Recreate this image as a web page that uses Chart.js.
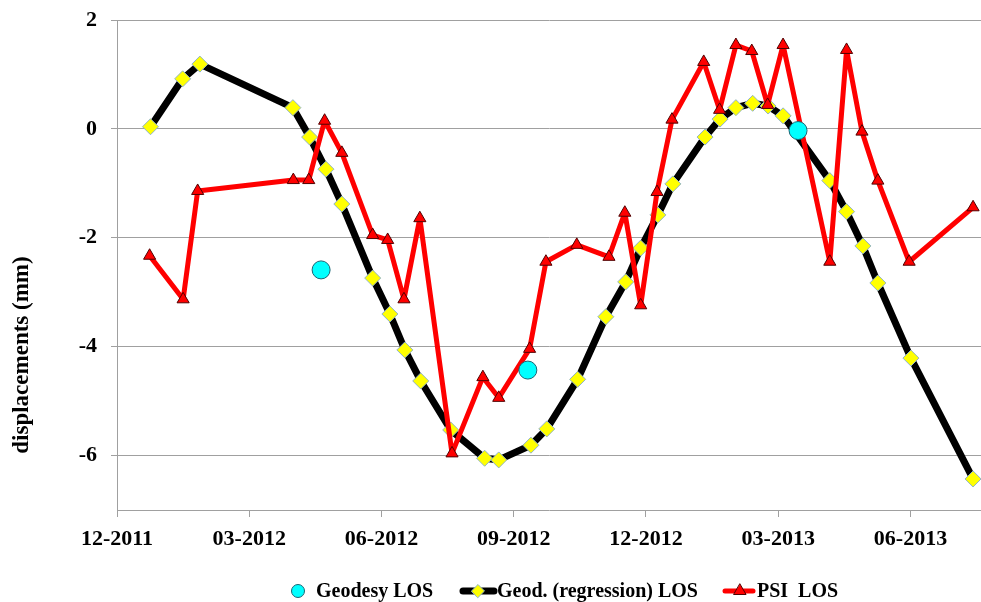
<!DOCTYPE html>
<html>
<head>
<meta charset="utf-8">
<script src="https://cdn.jsdelivr.net/npm/chart.js@4.4.1/dist/chart.umd.min.js"></script>
<style>
    html, body { margin: 0; padding: 0; background: #fff; }
    #wrap { width: 981px; height: 602px; }
</style>
</head>
<body>
<div id="wrap"><canvas id="dispChart" width="981" height="602"></canvas></div>
<script>
// x values are months counted from 12-2011
const tickMonths = [0, 3, 6, 9, 12, 15, 18];
const tickLabels = ["12-2011", "03-2012", "06-2012", "09-2012", "12-2012", "03-2013", "06-2013"];
const yTicks = [-6, -4, -2, 0, 2];

// Geodesy LOS
const geodesyMonths = [4.63, 9.32, 15.45];
const geodesyLOS = [-2.59, -4.43, -0.03];

// Geod. (regression) LOS
const regMonths = [0.76, 1.49, 1.88, 3.99, 4.37, 4.74, 5.10, 5.80, 6.19, 6.53, 6.89, 7.57,
    8.34, 8.66, 9.39, 9.75, 10.45, 11.09, 11.54, 11.88, 12.27, 12.61, 13.34, 13.68,
    14.04, 14.42, 14.77, 15.11, 16.17, 16.55, 16.92, 17.26, 18.01, 19.42];
const regLOS = [0.04, 0.92, 1.19, 0.39, -0.15, -0.74, -1.38, -2.74, -3.40, -4.06, -4.63, -5.53,
    -6.05, -6.08, -5.81, -5.51, -4.60, -3.45, -2.81, -2.19, -1.58, -1.01, -0.15, 0.18,
    0.39, 0.47, 0.42, 0.24, -0.95, -1.52, -2.15, -2.83, -4.21, -6.43];

// PSI LOS
const psiMonths = [0.74, 1.50, 1.83, 4.00, 4.35, 4.71, 5.10, 5.80, 6.14, 6.51, 6.87, 7.60,
    8.30, 8.66, 9.36, 9.73, 10.43, 11.16, 11.52, 11.88, 12.25, 12.59, 13.31, 13.67,
    14.04, 14.40, 14.76, 15.11, 16.17, 16.55, 16.90, 17.26, 17.97, 19.42];
const psiLOS = [-2.33, -3.13, -1.14, -0.94, -0.94, 0.15, -0.44, -1.95, -2.04, -3.13, -1.64, -5.96,
    -4.56, -4.94, -4.04, -2.44, -2.13, -2.35, -1.54, -3.24, -1.16, 0.17, 1.23, 0.35,
    1.54, 1.43, 0.44, 1.54, -2.44, 1.45, -0.05, -0.95, -2.44, -1.44];

const serif = '"Liberation Serif", "Times New Roman", serif';
const gridGrey = "#a0a0a0";

function toPoints(xs, ys) {
    return xs.map((x, i) => ({ x: x, y: ys[i] }));
}

// y axis title sits lower than the axis centre in the original
const axisTitle = {
    id: "axisTitle",
    afterDraw(chart) {
        const ctx = chart.ctx;
        ctx.save();
        ctx.translate(22, 355);
        ctx.rotate(-Math.PI / 2);
        ctx.font = "bold 23px " + serif;
        ctx.fillStyle = "#000";
        ctx.textAlign = "center";
        ctx.textBaseline = "middle";
        ctx.fillText("displacements (mm)", 0, 0);
        ctx.restore();
    }
};

// Excel style legend row under the axis
const legendRow = {
    id: "legendRow",
    afterDraw(chart) {
        const ctx = chart.ctx;
        const y = 591;
        const draw = Chart.helpers.drawPoint;
        ctx.save();
        ctx.font = "bold 20px " + serif;
        ctx.textBaseline = "middle";

        // Geodesy LOS
        ctx.fillStyle = "#00ffff";
        ctx.strokeStyle = "#1b6473";
        ctx.lineWidth = 1;
        draw(ctx, { pointStyle: "circle", radius: 6.5, borderWidth: 1 }, 298, y);
        ctx.fillStyle = "#000";
        ctx.fillText("Geodesy LOS", 316, y + 1);

        // Geod. (regression) LOS
        ctx.strokeStyle = "#000";
        ctx.lineWidth = 7;
        ctx.lineCap = "round";
        ctx.beginPath();
        ctx.moveTo(463, y);
        ctx.lineTo(494, y);
        ctx.stroke();
        ctx.fillStyle = "#ffff00";
        ctx.strokeStyle = "#8fb3c4";
        ctx.lineWidth = 1;
        draw(ctx, { pointStyle: "rectRot", radius: 6.5, borderWidth: 1 }, 478, y);
        ctx.fillStyle = "#000";
        ctx.fillText("Geod. (regression) LOS", 497, y + 1);

        // PSI LOS
        ctx.strokeStyle = "#ff0000";
        ctx.lineWidth = 5;
        ctx.beginPath();
        ctx.moveTo(725, y);
        ctx.lineTo(753, y);
        ctx.stroke();
        ctx.fillStyle = "#ff0000";
        ctx.strokeStyle = "#500000";
        ctx.lineWidth = 1;
        draw(ctx, { pointStyle: "triangle", radius: 7, borderWidth: 1 }, 740, y);
        ctx.fillStyle = "#000";
        ctx.fillText("PSI  LOS", 757, y + 1);
        ctx.restore();
    }
};

new Chart(document.getElementById("dispChart"), {
    type: "line",
    data: {
        datasets: [{
            label: "Geodesy LOS",
            data: toPoints(geodesyMonths, geodesyLOS),
            showLine: false,
            pointStyle: "circle",
            pointRadius: 9,
            pointBackgroundColor: "#00ffff",
            pointBorderColor: "#1b6473",
            pointBorderWidth: 1,
            order: 0
        }, {
            label: "Geod. (regression) LOS",
            data: toPoints(regMonths, regLOS),
            borderColor: "#000000",
            borderWidth: 7,
            borderJoinStyle: "round",
            tension: 0,
            pointStyle: "rectRot",
            pointRadius: 8,
            pointBackgroundColor: "#ffff00",
            pointBorderColor: "#8fb3c4",
            pointBorderWidth: 1,
            order: 2
        }, {
            label: "PSI  LOS",
            data: toPoints(psiMonths, psiLOS),
            borderColor: "#ff0000",
            borderWidth: 5,
            borderJoinStyle: "round",
            tension: 0,
            pointStyle: "triangle",
            pointRadius: 7,
            pointBackgroundColor: "#ff0000",
            pointBorderColor: "#500000",
            pointBorderWidth: 1,
            order: 1
        }]
    },
    options: {
        responsive: false,
        animation: false,
        layout: {
            autoPadding: false,
            padding: { top: 20, right: 0, bottom: 0, left: 0 }
        },
        plugins: {
            legend: { display: false },
            tooltip: { enabled: false }
        },
        scales: {
            x: {
                type: "linear",
                min: 0,
                max: 19.6,
                afterBuildTicks: s => { s.ticks = tickMonths.map(v => ({ value: v })); },
                afterFit: s => {
                    s.height = 92;
                    s.paddingLeft = 0;
                    s.paddingRight = 0;
                },
                grid: { drawOnChartArea: false, tickLength: 7, color: gridGrey },
                border: { color: gridGrey },
                ticks: {
                    autoSkip: false,
                    maxRotation: 0,
                    padding: 9,
                    color: "#000",
                    font: { family: serif, size: 22, weight: "bold" },
                    callback: v => tickLabels[tickMonths.indexOf(v)]
                }
            },
            y: {
                min: -7,
                max: 2,
                afterBuildTicks: s => { s.ticks = yTicks.map(v => ({ value: v })); },
                afterFit: s => {
                    s.width = 117;
                    s.paddingTop = 0;
                    s.paddingBottom = 0;
                },
                grid: { tickLength: 6, color: gridGrey },
                border: { color: gridGrey },
                ticks: {
                    padding: 14,
                    color: "#000",
                    font: { family: serif, size: 22, weight: "bold" }
                }
            }
        }
    },
    plugins: [axisTitle, legendRow]
});
</script>
</body>
</html>
